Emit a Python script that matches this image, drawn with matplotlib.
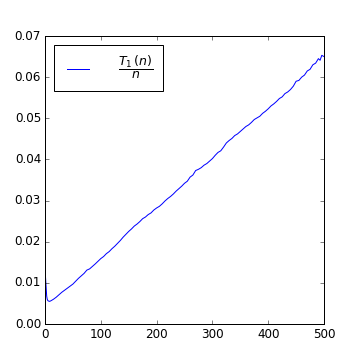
import matplotlib
matplotlib.use("Agg")
import matplotlib.pyplot as plt

plt.style.use("classic")
plt.rcParams["figure.facecolor"] = "white"
plt.rcParams["savefig.facecolor"] = "white"
plt.rcParams["mathtext.fontset"] = "dejavusans"

n_values = [1, 2, 3, 4, 5, 6, 8, 10, 15, 20, 30, 40, 50, 60, 70, 75, 80, 90,
            100, 105, 110, 115, 120, 125, 130, 135, 140, 145, 150, 155, 160, 165,
            170, 175, 180, 185, 190, 195, 200, 205, 210, 215, 220, 225, 230, 235,
            240, 245, 250, 255, 260, 265, 270, 275, 280, 285, 290, 295, 300, 305,
            310, 315, 320, 325, 330, 335, 340, 345, 350, 355, 360, 365, 370, 375,
            380, 385, 390, 395, 400, 405, 410, 415, 420, 425, 430, 435, 440, 445,
            450, 455, 460, 465, 470, 475, 480, 485, 490, 493, 496, 500]
t1_over_n = [0.0112, 0.0090, 0.0068, 0.0060, 0.0057, 0.0056, 0.0055, 0.0056,
             0.0060, 0.0065, 0.0077, 0.0087, 0.0097, 0.0111, 0.0123, 0.0131,
             0.0134, 0.0146,
             0.0159, 0.0164, 0.0171, 0.0176, 0.0183, 0.0189, 0.0196, 0.0203,
             0.0211, 0.0218, 0.0225, 0.0231, 0.0238, 0.0243, 0.0249, 0.0256,
             0.0260, 0.0266, 0.0270, 0.0277, 0.0282, 0.0286, 0.0292, 0.0299,
             0.0305, 0.0310, 0.0316, 0.0323, 0.0329, 0.0335, 0.0342, 0.0347,
             0.0357, 0.0362, 0.0373, 0.0376, 0.0380, 0.0386, 0.0390, 0.0396,
             0.0402, 0.0410, 0.0417, 0.0421, 0.0430, 0.0440, 0.0446, 0.0451,
             0.0458, 0.0462, 0.0468, 0.0474, 0.0480, 0.0484, 0.0490, 0.0497,
             0.0501, 0.0505, 0.0512, 0.0517, 0.0523, 0.0530, 0.0535, 0.0541,
             0.0548, 0.0552, 0.0560, 0.0564, 0.0570, 0.0578, 0.0590, 0.0592,
             0.0600, 0.0605, 0.0615, 0.0619, 0.0630, 0.0634, 0.0645, 0.0641,
             0.0653, 0.0650]

fig = plt.figure(figsize=(5, 5), dpi=72)
ax = fig.add_subplot(111)
ax.plot(n_values, t1_over_n, color="b", lw=1, label=r"$\dfrac{T_1\,(n)}{n}$")
ax.set_xlim(0, 500)
ax.set_ylim(0, 0.07)
ax.set_xticks([0, 100, 200, 300, 400, 500])
ax.set_yticks([0.0, 0.01, 0.02, 0.03, 0.04, 0.05, 0.06, 0.07])
ax.set_yticklabels(["0.00", "0.01", "0.02", "0.03", "0.04", "0.05", "0.06", "0.07"])
ax.legend(loc="upper left", fontsize=12.5, handlelength=2.4, handletextpad=2.0,
          borderpad=0.75, borderaxespad=0.7)
fig.savefig("out.png", dpi=72)
